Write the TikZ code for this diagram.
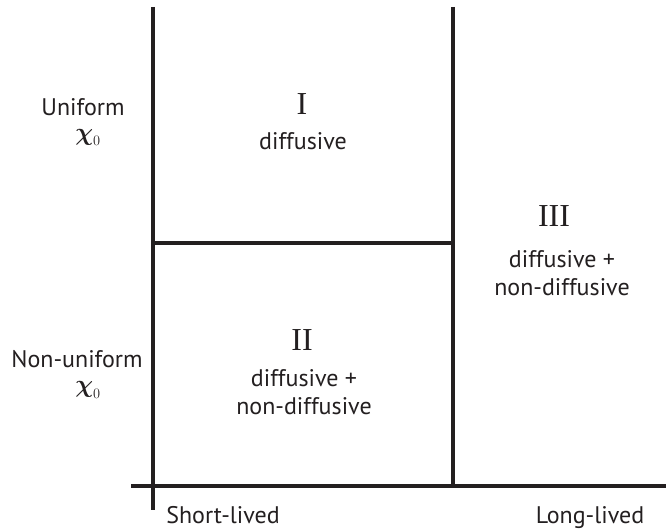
\documentclass[tikz,border=0pt]{standalone}
\usepackage{amsmath}
\usepackage{fontspec}
\setsansfont{PT Sans}
\newfontfamily\romfont{Liberation Serif}
\usetikzlibrary{positioning}
\definecolor{inkgray}{HTML}{231F20}
\tikzset{axis/.style={line width=4.5pt,color=inkgray,line cap=butt},
         lbl/.style={font=\sffamily\fontsize{24}{28.5}\selectfont,align=center,inner sep=0pt,text=inkgray},
         roman/.style={font=\romfont\fontsize{32}{32}\selectfont,inner sep=0pt,text=inkgray},
         chi/.style={font=\fontsize{29}{29}\selectfont,inner sep=0pt,text=inkgray}}

\begin{document}
\begin{tikzpicture}[x=1pt,y=-1pt]
    \useasboundingbox (0,0) rectangle (670,529);
    % frame of the regions
    \coordinate (ltop) at (153,7);
    \coordinate (lbot) at (153,510);
    \coordinate (rtop) at (453,7);
    \coordinate (rbot) at (453,486);
    \coordinate (hleft) at (131,486);
    \coordinate (hright) at (666,486);
    \coordinate (mleft) at (153,243);
    \coordinate (mright) at (453,243);
    \draw[axis] (ltop) -- (lbot);
    \draw[axis] (rtop) -- (rbot);
    \draw[axis] (hleft) -- (hright);
    \draw[axis] (mleft) -- (mright);
    % row labels
    \node[lbl] (unif) at (83,107) {Uniform};
    \node[chi,xshift=5pt] (chiu) [below=13pt of unif] {$\boldsymbol{\chi}_{\scriptscriptstyle 0}$};
    \node[lbl] (nonunif) at (77,359) {Non-uniform};
    \node[chi,xshift=11pt] (chin) [below=13pt of nonunif] {$\boldsymbol{\chi}_{\scriptscriptstyle 0}$};
    % column labels
    \node[lbl,anchor=base] (short) at (223,523) {Short-lived};
    \node[lbl,anchor=base] (long) at (590,523) {Long-lived};
    % regions
    \node[roman] (r1) at (302,104) {I};
    \node[lbl] (t1) at (303,141) {diffusive};
    \node[roman] (r2) at (302,340) {II};
    \node[lbl] (t2) at (304,392) {diffusive +\\non-diffusive};
    \node[roman] (r3) at (554,216) {III};
    \node[lbl] (t3) at (562,273) {diffusive +\\non-diffusive};
\end{tikzpicture}
\end{document}
